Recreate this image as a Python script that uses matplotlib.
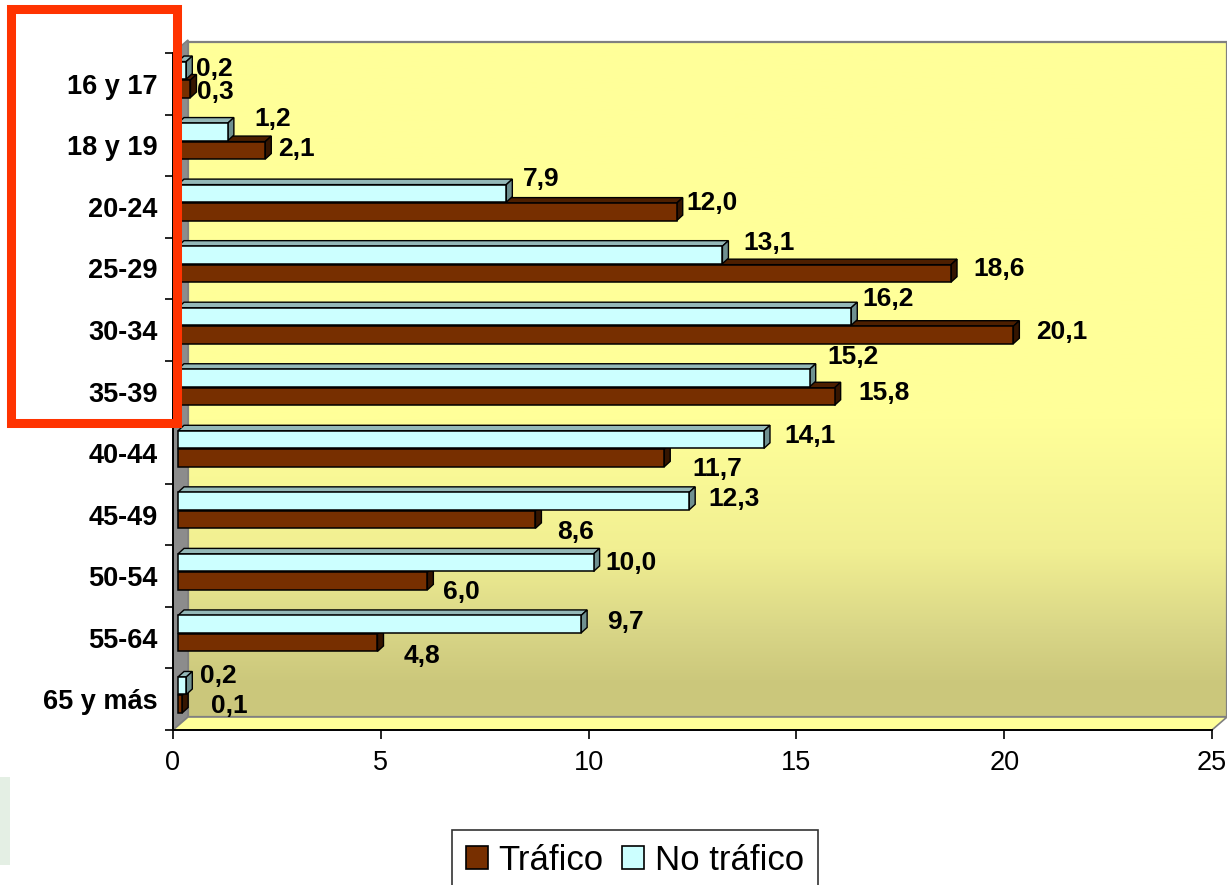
import numpy as np
import matplotlib
matplotlib.use("Agg")
import matplotlib.pyplot as plt
from matplotlib.patches import Polygon, Rectangle, Patch
from matplotlib.colors import to_rgb

# ---------------- data ----------------
categories = ["16 y 17", "18 y 19", "20-24", "25-29", "30-34", "35-39",
              "40-44", "45-49", "50-54", "55-64", "65 y más"]
trafico = [0.3, 2.1, 12.0, 18.6, 20.1, 15.8, 11.7, 8.6, 6.0, 4.8, 0.1]
no_trafico = [0.2, 1.2, 7.9, 13.1, 16.2, 15.2, 14.1, 12.3, 10.0, 9.7, 0.2]
x_ticks = [0, 5, 10, 15, 20, 25]
series_names = ["Tráfico", "No tráfico"]

# label offsets in pixels (dx right, dy down) relative to bar end / bar centre
off_no = [(10, -1.5), (27, -12.5), (17, -14.5), (21, -11.5), (11, -17.5), (18, -21),
          (20, -3.5), (19, -2.5), (12, 0), (26, -2.5), (14, -9.5)]
off_tr = [(7, 3), (13, -1), (10, -9), (22, -4), (23, -3), (24, -3),
          (28, 11), (22, 12), (16, 11), (26, 13), (29, 2)]

# ---------------- style ----------------
FONT = "Liberation Sans"
plt.rcParams["font.family"] = [FONT, "DejaVu Sans"]
BROWN = "#772F00"; BROWN_TOP = "#4D1F00"; BROWN_SIDE = "#351500"
CYAN = "#CCFFFF"; CYAN_TOP = "#94B8B8"; CYAN_SIDE = "#6F9090"

W, H = 1227, 885
fig = plt.figure(figsize=(W / 100, H / 100), dpi=100)

# background (pixel coordinates) for the 3D walls
bg = fig.add_axes([0, 0, 1, 1], zorder=0)
bg.set_xlim(0, W); bg.set_ylim(H, 0); bg.axis("off")

# gradient back wall
stops = [(42, "#FFFF99"), (420, "#FFFF99"), (550, "#F1EF92"), (630, "#D9D687"),
         (685, "#CBC77B"), (717, "#CCC87D")]
ys = np.linspace(42, 717, 400)
sy = [s[0] for s in stops]
cols = np.array([to_rgb(s[1]) for s in stops])
grad = np.stack([np.interp(ys, sy, cols[:, k]) for k in range(3)], axis=1)[:, None, :]
bg.imshow(grad, extent=(188, 1227, 717, 42), aspect="auto", origin="upper", zorder=1)
bg.add_patch(Rectangle((188, 42), 1227 - 188, 717 - 42, fill=False,
                       edgecolor="#808080", lw=1.6, zorder=2))
# left wall
bg.add_patch(Polygon([(173, 53), (188, 40), (188, 717), (173, 730)], closed=True,
                     facecolor="#8C8C8C", edgecolor="#808080", lw=1.2, zorder=3))
# floor
bg.add_patch(Polygon([(173, 730), (188, 717), (1227, 717), (1212, 730)], closed=True,
                     facecolor="#FFFF99", edgecolor="#808080", lw=1.2, zorder=3))
# faint watermark fragment
bg.add_patch(Rectangle((0, 777), 10, 88, facecolor="#E4EFE4", edgecolor="none", zorder=1))

# ---------------- main axes ----------------
x0p, x1p, y0p, y1p = 173, 1212, 53, 730
ax = fig.add_axes([x0p / W, 1 - y1p / H, (x1p - x0p) / W, (y1p - y0p) / H], zorder=2)
ax.set_facecolor("none")
ax.set_xlim(0, 25)
ax.set_ylim(len(categories) - 0.5, -0.5)

ppx = (x1p - x0p) / 25.0          # pixels per x unit
ppy = (y1p - y0p) / len(categories)  # pixels per category

bx0 = 5 / ppx              # bar front start offset (depth)
ddx = 6 / ppx              # bar depth offset x
ddy = 5.5 / ppy            # bar depth offset y
hbar = 17.5 / ppy
c_no = -13.5 / ppy
c_tr = 5.0 / ppy

ypos = np.arange(len(categories))
bars_tr = ax.barh(ypos + c_tr, trafico, left=bx0, height=hbar, color=BROWN,
                  edgecolor="black", lw=1.1, clip_on=False)
bars_no = ax.barh(ypos + c_no, no_trafico, left=bx0, height=hbar, color=CYAN,
                  edgecolor="black", lw=1.1, clip_on=False)

def faces(v, yc, ctop, cside, z):
    xa, xb = bx0, bx0 + v
    yt, yb = yc - hbar / 2, yc + hbar / 2
    top = Polygon([(xa, yt), (xa + ddx, yt - ddy), (xb + ddx, yt - ddy), (xb, yt)],
                  closed=True, facecolor=ctop, edgecolor="black", lw=1.0,
                  zorder=z, clip_on=False)
    side = Polygon([(xb, yt), (xb + ddx, yt - ddy), (xb + ddx, yb - ddy), (xb, yb)],
                   closed=True, facecolor=cside, edgecolor="black", lw=1.0,
                   zorder=z, clip_on=False)
    ax.add_patch(top); ax.add_patch(side)

n = len(categories)
for i in range(n):
    zb = 3 + (n - i) * 4
    faces(trafico[i], i + c_tr, BROWN_TOP, BROWN_SIDE, zb)
    bars_tr[i].set_zorder(zb + 1)
    faces(no_trafico[i], i + c_no, CYAN_TOP, CYAN_SIDE, zb + 2)
    bars_no[i].set_zorder(zb + 3)

def fmt(v):
    return f"{v:.1f}".replace(".", ",")

for i in range(n):
    dx, dy = off_no[i]
    ax.annotate(fmt(no_trafico[i]), xy=(bx0 + no_trafico[i], i + c_no),
                xytext=(dx, -dy), textcoords="offset pixels", ha="left", va="center",
                fontsize=19, fontweight="bold", color="black", zorder=100,
                annotation_clip=False)
    dx, dy = off_tr[i]
    ax.annotate(fmt(trafico[i]), xy=(bx0 + trafico[i], i + c_tr),
                xytext=(dx, -dy), textcoords="offset pixels", ha="left", va="center",
                fontsize=19, fontweight="bold", color="black", zorder=100,
                annotation_clip=False)

# axes styling
for s in ["top", "right"]:
    ax.spines[s].set_visible(False)
for s in ["left", "bottom"]:
    ax.spines[s].set_color("black"); ax.spines[s].set_linewidth(1.4)
    ax.spines[s].set_zorder(200)

ax.set_yticks(ypos)
ax.set_yticklabels(categories, fontsize=19.5, fontweight="bold")
ax.set_yticks(np.arange(-0.5, n, 1.0), minor=True)
ax.tick_params(axis="y", which="major", length=0, pad=11)
ax.tick_params(axis="y", which="minor", length=6, width=1.2, direction="out", color="black")

ax.set_xticks(x_ticks)
ax.set_xticklabels([str(t) for t in x_ticks], fontsize=19.5)
ax.tick_params(axis="x", which="major", length=6.5, width=1.2, direction="out", pad=8)

# legend
handles = [Patch(facecolor=BROWN, edgecolor="black", lw=1.2),
           Patch(facecolor=CYAN, edgecolor="black", lw=1.2)]
leg = fig.legend(handles, series_names, loc="upper left",
                 bbox_to_anchor=(452 / W, 1 - 830 / H), bbox_transform=fig.transFigure,
                 ncol=2, fontsize=25, frameon=True, fancybox=False, shadow=False,
                 borderaxespad=0, borderpad=0.4, handlelength=0.63, handleheight=0.63,
                 handletextpad=0.3, columnspacing=0.55)
leg.get_frame().set_edgecolor("black")
leg.get_frame().set_linewidth(1.2)
leg.get_frame().set_facecolor("white")

# red highlight rectangle overlay
ov = fig.add_axes([0, 0, 1, 1], zorder=10)
ov.set_xlim(0, W); ov.set_ylim(H, 0); ov.axis("off"); ov.set_facecolor("none")
ov.add_patch(Rectangle((10.5, 8.5), 166, 414, fill=False, edgecolor="#FF3300", lw=6.5))

fig.savefig("out.png", dpi=100)
